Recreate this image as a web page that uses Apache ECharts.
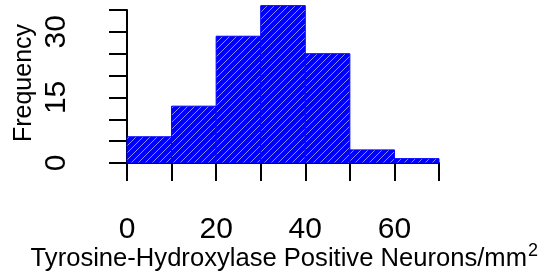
<!DOCTYPE html>
<html>
<head>
<meta charset="utf-8">
<script src="https://cdn.jsdelivr.net/npm/echarts@6/dist/echarts.min.js"></script>
<style>
  html, body { margin: 0; padding: 0; background: #fff; }
  #chart { width: 543px; height: 279px; }
</style>
</head>
<body>
<div id="chart"></div>
<script>
// histogram bins (left edge, right edge) and counts
const binStart = [0, 10, 20, 30, 40, 50, 60];
const binEnd = [10, 20, 30, 40, 50, 60, 70];
const counts = [6, 13, 29, 36, 25, 3, 1];
const xLabels = [0, 20, 40, 60];
const yLabels = [0, 15, 30];

const FONT = '"Liberation Sans", Arial, sans-serif';

// blue fill with light diagonal hatching
function makeHatch() {
  const c = document.createElement('canvas');
  c.width = 7; c.height = 7;
  const g = c.getContext('2d');
  g.fillStyle = '#0000ff';
  g.fillRect(0, 0, 7, 7);
  g.strokeStyle = 'rgba(255,255,255,0.55)';
  g.lineWidth = 1;
  g.beginPath();
  g.moveTo(-1, 8); g.lineTo(8, -1);
  g.moveTo(-1, 1); g.lineTo(1, -1);
  g.moveTo(6, 8); g.lineTo(8, 6);
  g.stroke();
  return c;
}
const hatch = makeHatch();

const data = counts.map((v, i) => [binStart[i], binEnd[i], v]);

const chart = echarts.init(document.getElementById('chart'));
chart.setOption({
  animation: false,
  grid: { left: 127, right: 104, top: 10, bottom: 116 },
  xAxis: {
    type: 'value', min: 0, max: 70, interval: 10, offset: 7,
    axisLine: { show: true, lineStyle: { color: '#000', width: 2 } },
    axisTick: { show: true, length: 18, lineStyle: { color: '#000', width: 2 } },
    splitLine: { show: false },
    axisLabel: {
      margin: 45, color: '#000', fontSize: 30, fontFamily: FONT,
      formatter: v => xLabels.indexOf(v) >= 0 ? String(v) : ''
    }
  },
  yAxis: {
    type: 'value', min: 0, max: 35, interval: 5, offset: 14,
    axisLine: { show: true, lineStyle: { color: '#000', width: 2 } },
    axisTick: { show: true, length: 18, lineStyle: { color: '#000', width: 2 } },
    splitLine: { show: false },
    axisLabel: {
      margin: 41, rotate: 90, color: '#000', fontSize: 30, fontFamily: FONT,
      formatter: v => yLabels.indexOf(v) >= 0 ? String(v) : ''
    }
  },
  series: [{
    type: 'custom',
    clip: false,
    data: data,
    renderItem: function (params, api) {
      const p0 = api.coord([api.value(0), api.value(2)]);
      const p1 = api.coord([api.value(1), 0]);
      return {
        type: 'rect',
        shape: { x: p0[0], y: p0[1], width: p1[0] - p0[0], height: p1[1] - p0[1] },
        style: { fill: { image: hatch, repeat: 'repeat' }, stroke: '#0000ff', lineWidth: 1 }
      };
    }
  }],
  graphic: [
    {
      type: 'text', x: 527, y: 259,
      style: {
        text: 'Tyrosine-Hydroxylase Positive Neurons/mm',
        font: '25.6px ' + FONT, fill: '#000',
        textAlign: 'right', textVerticalAlign: 'middle'
      }
    },
    {
      type: 'text', x: 528, y: 251,
      style: {
        text: '2', font: '18px ' + FONT, fill: '#000',
        textAlign: 'left', textVerticalAlign: 'middle'
      }
    },
    {
      type: 'text', x: 24, y: 83, rotation: Math.PI / 2,
      style: {
        text: 'Frequency', font: '25px ' + FONT, fill: '#000',
        textAlign: 'center', textVerticalAlign: 'middle'
      }
    }
  ]
});
</script>
</body>
</html>
